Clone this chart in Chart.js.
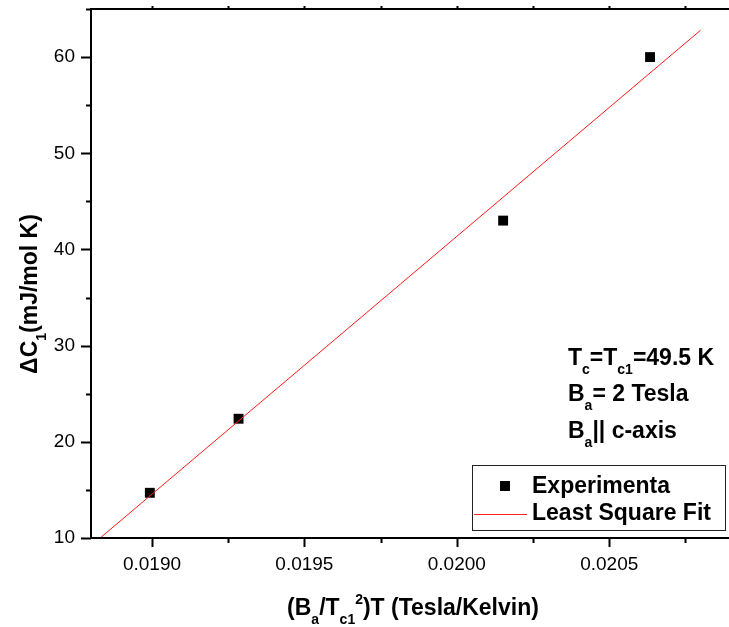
<!DOCTYPE html>
<html>
<head>
<title>Delta C1 vs field - least square fit</title>
<script src="https://cdn.jsdelivr.net/npm/chart.js"></script>
<style>
  body { margin: 0; background: #fff; }
</style>
</head>
<body>
<canvas id="fitChart" width="729" height="627"></canvas>
<script>
const expX = [0.018993, 0.019284, 0.020152, 0.020634];
const expY = [14.7, 22.4, 43.0, 60.0];

// least square fit line, its two ends
const fitX = [0.01883, 0.02080];
const fitY = [10.0, 62.8];

// axes
const xMajor = [0.0190, 0.0195, 0.0200, 0.0205];
const yMajor = [10, 20, 30, 40, 50, 60];
const xRange = [0.0188, 0.02087];
const yRange = [10, 65];

const FONT = "'Liberation Sans', Arial, sans-serif";

function isMajor(v, list) {
    return list.some(m => Math.abs(m - v) < 1e-9);
}

// text with sub / superscripts; parts = [[text, mode]], mode 0 normal, 1 sub, 2 sup
function richText(ctx, x, y, parts, size, align) {
    const small = Math.round(size * 0.6);
    let total = 0;
    parts.forEach(p => {
        ctx.font = 'bold ' + (p[1] ? small : size) + 'px ' + FONT;
        total += ctx.measureText(p[0]).width;
    });
    let cx = align === 'center' ? x - total / 2 : x;
    ctx.textAlign = 'left';
    ctx.textBaseline = 'alphabetic';
    parts.forEach(p => {
        ctx.font = 'bold ' + (p[1] ? small : size) + 'px ' + FONT;
        let dy = 0;
        if (p[1] === 1) dy = size * 0.38;
        if (p[1] === 2) dy = -size * 0.5;
        ctx.fillText(p[0], cx, y + dy);
        cx += ctx.measureText(p[0]).width;
    });
}

const framePlugin = {
    id: 'frame',
    afterDraw(chart) {
        const ctx = chart.ctx;
        const a = chart.chartArea;
        const xs = chart.scales.x;
        const ys = chart.scales.y;
        ctx.save();
        ctx.strokeStyle = '#000';
        ctx.lineWidth = 2;

        // axis lines and top border
        ctx.beginPath();
        ctx.moveTo(a.left, a.top);
        ctx.lineTo(a.left, a.bottom + 1);
        ctx.moveTo(a.left - 1, a.bottom);
        ctx.lineTo(729, a.bottom);
        ctx.moveTo(a.left - 1, a.top);
        ctx.lineTo(729, a.top);
        ctx.stroke();

        // ticks
        ctx.beginPath();
        xs.ticks.forEach(t => {
            const px = Math.round(xs.getPixelForValue(t.value)) + 0.5;
            const len = isMajor(t.value, xMajor) ? 9 : 5;
            ctx.moveTo(px, a.bottom);
            ctx.lineTo(px, a.bottom + len);
            ctx.moveTo(px, a.top);
            ctx.lineTo(px, a.top - 3);
        });
        ys.ticks.forEach(t => {
            const py = Math.round(ys.getPixelForValue(t.value)) + 0.5;
            const len = isMajor(t.value, yMajor) ? 10 : 5;
            ctx.moveTo(a.left, py);
            ctx.lineTo(a.left - len, py);
        });
        ctx.stroke();

        ctx.fillStyle = '#000';
        // x title
        richText(ctx, 413, 615, [['(B', 0], ['a', 1], ['/T', 0], ['c1', 1], ['2', 2],
            [')T (Tesla/Kelvin)', 0]], 23, 'center');
        // y title
        ctx.save();
        ctx.translate(37, 294);
        ctx.rotate(-Math.PI / 2);
        richText(ctx, 0, 0, [['\u0394C', 0], ['1', 1], ['(mJ/mol K)', 0]], 23, 'center');
        ctx.restore();

        // annotation
        richText(ctx, 568, 365, [['T', 0], ['c', 1], ['=T', 0], ['c1', 1], ['=49.5 K', 0]], 23);
        richText(ctx, 568, 401, [['B', 0], ['a', 1], ['= 2 Tesla', 0]], 23);
        richText(ctx, 568, 438, [['B', 0], ['a', 1], ['|| c-axis', 0]], 23);

        // legend box
        ctx.lineWidth = 1;
        ctx.fillStyle = '#fff';
        ctx.fillRect(472.5, 465.5, 253, 65);
        ctx.strokeStyle = '#222';
        ctx.strokeRect(472.5, 465.5, 253, 65);
        ctx.fillStyle = '#000';
        ctx.fillRect(500, 481, 10, 10);
        ctx.strokeStyle = '#ff2020';
        ctx.beginPath();
        ctx.moveTo(474, 514.5);
        ctx.lineTo(527, 514.5);
        ctx.stroke();
        ctx.fillStyle = '#000';
        richText(ctx, 532, 493, [['Experimenta', 0]], 23);
        richText(ctx, 532, 520, [['Least Square Fit', 0]], 23);
        ctx.restore();
    }
};

function noPad(s) {
    s.paddingTop = 0;
    s.paddingBottom = 0;
    s.paddingLeft = 0;
    s.paddingRight = 0;
}

function createChart() {
    const canvas = document.getElementById('fitChart');
    return new Chart(canvas, {
        type: 'scatter',
        data: {
            datasets: [
                {
                    label: 'Least Square Fit',
                    data: fitX.map((x, i) => ({ x: x, y: fitY[i] })),
                    showLine: true,
                    borderColor: '#ff1a1a',
                    borderWidth: 1,
                    pointRadius: 0,
                    order: 0
                },
                {
                    label: 'Experimenta',
                    data: expX.map((x, i) => ({ x: x, y: expY[i] })),
                    pointStyle: 'rect',
                    pointRadius: 7,
                    backgroundColor: '#000',
                    borderColor: '#000',
                    borderWidth: 0,
                    order: 1
                }
            ]
        },
        options: {
            responsive: false,
            animation: false,
            layout: { padding: { top: 9, right: 1, left: 0, bottom: 0 } },
            plugins: {
                legend: { display: false },
                tooltip: { enabled: false }
            },
            scales: {
                x: {
                    type: 'linear',
                    min: xRange[0],
                    max: xRange[1],
                    grid: { display: false, drawTicks: false },
                    border: { display: false },
                    ticks: {
                        stepSize: 0.00025,
                        includeBounds: false,
                        autoSkip: false,
                        maxRotation: 0,
                        padding: 15,
                        color: '#000',
                        font: { family: FONT, size: 19 },
                        callback: v => isMajor(v, xMajor) ? v.toFixed(4) : ''
                    },
                    afterFit: s => { s.height = 89; noPad(s); }
                },
                y: {
                    type: 'linear',
                    min: yRange[0],
                    max: yRange[1],
                    grid: { display: false, drawTicks: false },
                    border: { display: false },
                    ticks: {
                        stepSize: 5,
                        autoSkip: false,
                        padding: 16,
                        color: '#000',
                        font: { family: FONT, size: 19 },
                        callback: v => isMajor(v, yMajor) ? String(v) : ''
                    },
                    afterFit: s => { s.width = 91; noPad(s); }
                }
            }
        },
        plugins: [framePlugin]
    });
}

window.onload = () => {
    createChart();
};
</script>
</body>
</html>
